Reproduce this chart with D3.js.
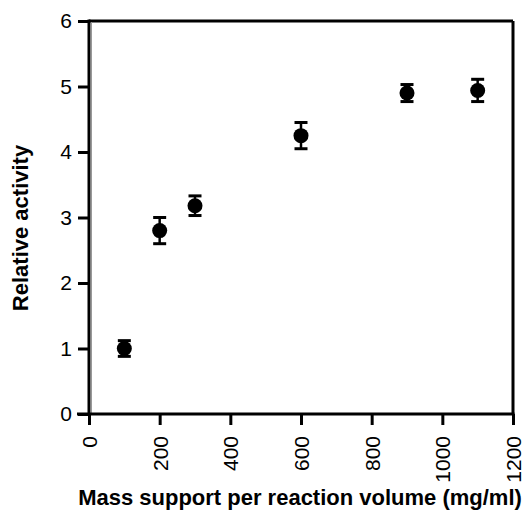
<!DOCTYPE html>
<html><head><meta charset="utf-8">
<script src="https://cdn.jsdelivr.net/npm/d3@7"></script>
<style>body{margin:0;background:#fff}svg{display:block}</style>
</head><body>
<svg id="c" width="526" height="512"></svg>
<script>
const masses = [100, 200, 300, 600, 900, 1100];
const activity = [1.00, 2.80, 3.18, 4.25, 4.90, 4.94];
const errors = [0.12, 0.20, 0.15, 0.20, 0.13, 0.17];
const xTicks = [0, 200, 400, 600, 800, 1000, 1200];
const yTicks = [0, 1, 2, 3, 4, 5, 6];
const xTitle = "Mass support per reaction volume (mg/ml)";
const yTitle = "Relative activity";

const svg = d3.select("#c");
const x = d3.scaleLinear().domain([0, 1200]).range([89, 513]);
const y = d3.scaleLinear().domain([0, 6]).range([414, 21]);
const font = "Liberation Sans, Arial, sans-serif";

// frame top/right
svg.append("line").attr("x1", x(0)).attr("x2", x(1200)).attr("y1", y(6)).attr("y2", y(6))
  .attr("stroke", "#000").attr("stroke-width", 3);
svg.append("line").attr("x1", x(1200)).attr("x2", x(1200)).attr("y1", y(6)).attr("y2", y(0))
  .attr("stroke", "#000").attr("stroke-width", 3);

// y axis
const yAxis = svg.append("g").attr("transform", `translate(${x(0)},0)`)
  .call(d3.axisLeft(y).tickValues(yTicks).tickSize(11).tickPadding(6).tickFormat(d3.format("d")));
yAxis.select(".domain").attr("stroke", "#000").attr("stroke-width", 3).attr("d", `M0,${y(6)-1.5}V${y(0)}`);
yAxis.selectAll(".tick line").attr("stroke", "#000").attr("stroke-width", 3);
yAxis.selectAll(".tick text").attr("font-family", font).attr("font-size", 21).attr("fill", "#000");
svg.append("line").attr("x1", x(0) + 2.5).attr("x2", x(0) + 2.5).attr("y1", y(6)+1).attr("y2", y(0)-1)
  .attr("stroke", "#999").attr("stroke-width", 1);

// x axis
const xAxis = svg.append("g").attr("transform", `translate(0,${y(0)})`)
  .call(d3.axisBottom(x).tickValues(xTicks).tickSize(11).tickFormat(d3.format("d")));
xAxis.select(".domain").attr("stroke", "#000").attr("stroke-width", 3).attr("d", `M${x(0)-12},0H${x(1200)+1.5}`);
xAxis.selectAll(".tick line").attr("stroke", "#000").attr("stroke-width", 3);
xAxis.selectAll(".tick text").attr("font-family", font).attr("font-size", 21).attr("fill", "#000")
  .attr("transform", "rotate(-90)").attr("text-anchor", "end")
  .attr("x", -22).attr("y", 0).attr("dy", "0.36em");

// error bars
const g = svg.append("g");
masses.forEach((m, i) => {
  const cx = x(m), lo = y(activity[i] - errors[i]), hi = y(activity[i] + errors[i]);
  g.append("line").attr("x1", cx).attr("x2", cx).attr("y1", lo).attr("y2", hi).attr("stroke", "#000").attr("stroke-width", 2.5);
  g.append("line").attr("x1", cx - 6.5).attr("x2", cx + 6.5).attr("y1", lo).attr("y2", lo).attr("stroke", "#000").attr("stroke-width", 3);
  g.append("line").attr("x1", cx - 6.5).attr("x2", cx + 6.5).attr("y1", hi).attr("y2", hi).attr("stroke", "#000").attr("stroke-width", 3);
});
g.selectAll("circle").data(masses).join("circle")
  .attr("cx", d => x(d)).attr("cy", (d, i) => y(activity[i])).attr("r", 7.5).attr("fill", "#000");

// titles
svg.append("text").attr("x", 300).attr("y", 505).attr("text-anchor", "middle")
  .attr("font-family", font).attr("font-weight", "bold").attr("font-size", 22).text(xTitle);
svg.append("text").attr("transform", "translate(28,228) rotate(-90)").attr("text-anchor", "middle")
  .attr("font-family", font).attr("font-weight", "bold").attr("font-size", 22).text(yTitle);
</script>
</body></html>
